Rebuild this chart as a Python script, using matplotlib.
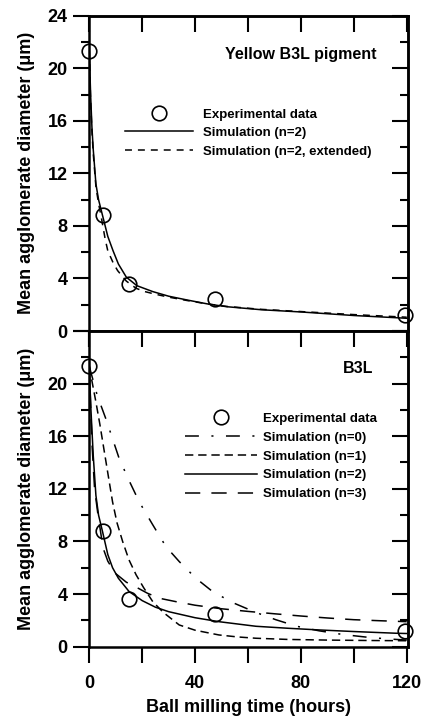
import numpy as np
import matplotlib.pyplot as plt
from matplotlib.lines import Line2D
from matplotlib.ticker import MultipleLocator, NullFormatter

plt.rcParams['font.family'] = ['Liberation Sans', 'DejaVu Sans']
plt.rcParams['font.weight'] = 'bold'
plt.rcParams['lines.scale_dashes'] = False

# experimental points (same in both panels)
t_exp = [0, 5, 15, 47.5, 119.5]
d_exp = [21.3, 8.8, 3.6, 2.45, 1.2]

# top panel: Yellow B3L pigment
t_top_n2 = [0, 0.5, 1, 1.5, 2.5, 3.5, 5, 7, 9, 11, 14, 18, 24, 30, 37, 45, 52, 65, 80, 100, 120]
d_top_n2 = [21.3, 18.0, 15.5, 13.8, 11.2, 10.0, 8.8, 7.2, 6.1, 5.1, 4.1, 3.45, 3.0, 2.65, 2.36, 2.05, 1.85, 1.62, 1.45, 1.18, 0.97]

t_top_ext = [0, 0.5, 1, 1.5, 2.5, 3.5, 4.5, 6, 7, 9, 10.7, 14, 17.7, 21, 25, 30, 37, 45, 52, 65, 80, 100, 120]
d_top_ext = [21.3, 17.5, 15.2, 13.5, 11.0, 9.7, 8.7, 7.0, 6.1, 5.2, 4.6, 3.8, 3.25, 3.0, 2.8, 2.58, 2.32, 2.05, 1.87, 1.65, 1.48, 1.25, 1.05]

# bottom panel: B3L
t_n0 = [0, 3, 6.3, 11.3, 15.1, 18.9, 24, 29, 34, 40.3, 46.6, 54.2, 63, 70.5, 78.4, 87, 96, 105, 112, 120]
d_n0 = [21.3, 19.1, 17.3, 14.3, 12.6, 11.0, 9.26, 7.6, 6.47, 5.2, 4.19, 3.35, 2.6, 2.05, 1.55, 1.2, 0.92, 0.72, 0.6, 0.5]

t_n1 = [0, 1, 2.5, 4, 5.7, 7, 8.8, 10.5, 12.6, 15, 17.7, 20.5, 24, 28, 34, 40, 49, 56, 63, 75, 90, 105, 120]
d_n1 = [21.3, 20.2, 18.6, 16.9, 14.8, 13.2, 11.0, 9.4, 8.0, 6.6, 5.46, 4.5, 3.42, 2.6, 1.65, 1.25, 0.89, 0.74, 0.64, 0.55, 0.5, 0.47, 0.45]

t_n2 = [0, 0.5, 1, 1.5, 2.5, 3.5, 5, 7, 8.8, 11, 15, 20, 25, 30, 40, 49, 63, 75, 87, 100, 116, 120]
d_n2 = [21.3, 18.5, 16.5, 14.5, 11.5, 10.0, 8.75, 7.0, 6.0, 5.2, 4.2, 3.5, 3.0, 2.66, 2.2, 1.9, 1.55, 1.4, 1.27, 1.15, 1.02, 1.0]

t_n3 = [0, 1, 2, 3.3, 5.2, 7, 9.7, 14, 18.5, 22, 26.5, 32.8, 40, 50, 60, 70, 80, 90, 100, 110, 120]
d_n3 = [21.3, 15.5, 12.0, 10.0, 7.5, 6.5, 5.6, 4.9, 4.44, 4.06, 3.68, 3.42, 3.15, 2.88, 2.68, 2.5, 2.33, 2.18, 2.05, 1.97, 1.9]

x_ticks = [0, 20, 40, 60, 80, 100, 120]
x_labels = ['0', '', '40', '', '80', '', '120']
y_ticks = [0, 4, 8, 12, 16, 20, 24]

LW = 1.1
DS_N0 = (0, (10, 9, 1.5, 9))
DS_N1 = (0, (6, 3.5))
DS_N3 = (0, (11, 8))
DS_EXT = (0, (5, 4.3))

fig = plt.figure(figsize=(4.25, 7.21), dpi=100)
ax1 = fig.add_axes([0.2101, 0.5409, 0.7506, 0.4373])
ax2 = fig.add_axes([0.2101, 0.1031, 0.7506, 0.4379])


def style(ax, bottom_panel):
    ax.set_xlim(0, 120.6)
    ax.set_ylim(0, 24)
    for s in ax.spines.values():
        s.set_linewidth(1.8)
    ax.set_xticks(x_ticks)
    ax.set_yticks(y_ticks)
    ax.yaxis.set_minor_locator(MultipleLocator(2))
    if bottom_panel:
        ax.set_xticklabels(x_labels)
        ax.set_yticklabels([str(v) for v in y_ticks[:-1]] + [''])
    else:
        ax.set_xticklabels([])
        ax.set_yticklabels([str(v) for v in y_ticks])
    # left / bottom ticks point outward
    ax.tick_params(axis='both', which='major', direction='out', length=11.5, width=1.5,
                   labelsize=13)
    ax.tick_params(axis='y', which='minor', direction='out', length=5.5, width=1.5)
    ax.tick_params(axis='y', which='major', pad=4)
    ax.tick_params(axis='x', which='major', pad=9)
    for lab in ax.get_xticklabels() + ax.get_yticklabels():
        lab.set_fontweight('bold')
    # right / top ticks point inward
    sy = ax.secondary_yaxis('right')
    sy.set_yticks(y_ticks)
    sy.yaxis.set_minor_locator(MultipleLocator(2))
    sy.yaxis.set_major_formatter(NullFormatter())
    sy.tick_params(which='major', direction='in', length=11.5, width=1.5)
    sy.tick_params(which='minor', direction='in', length=6, width=1.5)
    sy.spines['right'].set_linewidth(1.8)
    sx = ax.secondary_xaxis('top')
    sx.set_xticks(x_ticks)
    sx.xaxis.set_major_formatter(NullFormatter())
    sx.tick_params(which='major', direction='in', length=11.5, width=1.5)
    sx.spines['top'].set_linewidth(1.8)
    ax.set_ylabel('Mean agglomerate diameter (μm)', fontsize=13, fontweight='bold', labelpad=9)


# top panel
ax1.plot(t_top_n2, d_top_n2, color='black', lw=LW)
ax1.plot(t_top_ext, d_top_ext, color='black', lw=LW, linestyle=DS_EXT)
ax1.plot(t_exp, d_exp, 'o', ms=10.5, mfc='none', mec='black', mew=1.2, clip_on=False)
style(ax1, False)
ax1.text(0.899, 0.878, 'Yellow B3L pigment', transform=ax1.transAxes, ha='right', va='center',
         fontsize=11.5, fontweight='bold')
h1 = [Line2D([], [], ls='none', marker='o', ms=10.5, mfc='none', mec='black', mew=1.2),
      Line2D([], [], color='black', lw=LW),
      Line2D([], [], color='black', lw=LW, linestyle=DS_EXT)]
ax1.legend(h1, ['Experimental data', 'Simulation (n=2)', 'Simulation (n=2, extended)'],
           loc='upper left', bbox_to_anchor=(0.112, 0.706), frameon=False, borderpad=0,
           handlelength=5.15, handletextpad=0.75, labelspacing=0.47, numpoints=1,
           borderaxespad=0, prop={'size': 9.5, 'weight': 'bold'})

# bottom panel
ax2.plot(t_n0, d_n0, color='black', lw=LW, linestyle=DS_N0)
ax2.plot(t_n1, d_n1, color='black', lw=LW, linestyle=DS_N1)
ax2.plot(t_n2, d_n2, color='black', lw=LW)
ax2.plot(t_n3, d_n3, color='black', lw=LW, linestyle=DS_N3)
ax2.plot(t_exp, d_exp, 'o', ms=10.5, mfc='none', mec='black', mew=1.2, clip_on=False)
style(ax2, True)
ax2.set_xlabel('Ball milling time (hours)', fontsize=13, fontweight='bold', labelpad=5)
ax2.text(0.889, 0.880, 'B3L', transform=ax2.transAxes, ha='right', va='center',
         fontsize=11.5, fontweight='bold')
h2 = [Line2D([], [], ls='none', marker='o', ms=10.5, mfc='none', mec='black', mew=1.2),
      Line2D([], [], color='black', lw=LW, linestyle=DS_N0),
      Line2D([], [], color='black', lw=LW, linestyle=DS_N1),
      Line2D([], [], color='black', lw=LW),
      Line2D([], [], color='black', lw=LW, linestyle=DS_N3)]
ax2.legend(h2, ['Experimental data', 'Simulation (n=0)', 'Simulation (n=1)',
                'Simulation (n=2)', 'Simulation (n=3)'],
           loc='upper left', bbox_to_anchor=(0.300, 0.741), frameon=False, borderpad=0,
           handlelength=5.45, handletextpad=0.45, labelspacing=0.5, numpoints=1,
           borderaxespad=0, prop={'size': 9.5, 'weight': 'bold'})

fig.savefig('out.png', dpi=100)
